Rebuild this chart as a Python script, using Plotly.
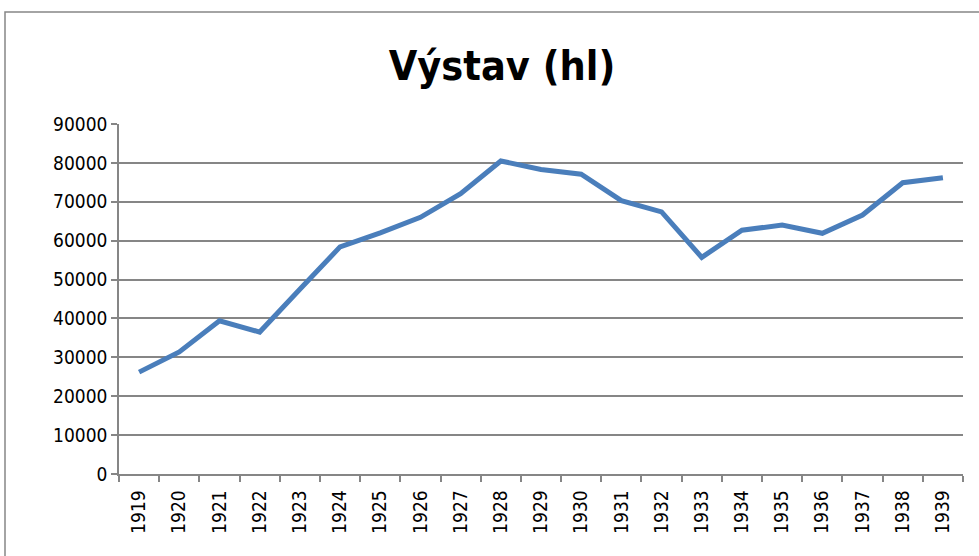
import plotly.graph_objects as go

years = [str(y) for y in range(1919, 1940)]
vystav = [26200, 31400, 39400, 36500, 47500, 58400, 62000, 66000, 72100, 80500,
          78300, 77100, 70300, 67400, 55700, 62700, 64000, 61900, 66600, 74900, 76200]
y_ticks = [0, 10000, 20000, 30000, 40000, 50000, 60000, 70000, 80000, 90000]

FONT = "Liberation Sans Narrow, DejaVu Sans Condensed, Arial Narrow, sans-serif"
GRAY = "#868686"

fig = go.Figure()
fig.add_trace(go.Scatter(x=years, y=vystav, mode="lines",
                         line=dict(color="#4A7EBB", width=5), showlegend=False))

L, R, T, B = 119, 16, 124, 82
W, H = 979, 556
pw, ph = W - L - R, H - T - B

fig.update_layout(
    width=W, height=H,
    margin=dict(l=L, r=R, t=T, b=B),
    paper_bgcolor="white", plot_bgcolor="white",
    font=dict(family=FONT, size=19, color="black"),
    title=dict(text="<b>Výstav (hl)</b>", x=502 / W, xref="container", xanchor="center",
               y=1 - 66 / H, yref="container", yanchor="middle",
               font=dict(family=FONT, size=41, color="black")),
    xaxis=dict(type="category", range=[-0.5, 20.5], tickangle=-90,
               showline=True, linecolor=GRAY, linewidth=1.5,
               ticks="outside", tickson="boundaries", ticklen=6, tickcolor=GRAY, tickwidth=1.5,
               ticklabelstandoff=7,
               showgrid=False, tickfont=dict(size=19)),
    yaxis=dict(range=[0, 90000], tickvals=y_ticks, ticktext=[str(v) for v in y_ticks],
               showline=True, linecolor=GRAY, linewidth=1.5,
               ticks="outside", ticklen=6, tickcolor=GRAY, tickwidth=1.5,
               showgrid=True, gridcolor=GRAY, gridwidth=1.5, zeroline=False,
               tickfont=dict(size=19)),
    shapes=[dict(type="rect", xref="paper", yref="paper",
                 x0=(5 - L) / pw, x1=(W + 20 - L) / pw,
                 y0=(H - B - (H + 20)) / ph, y1=(H - B - 12) / ph,
                 line=dict(color=GRAY, width=1.5), fillcolor="rgba(0,0,0,0)", layer="below")],
)

fig.write_html("out.html", config={"displayModeBar": False},
               post_script="document.body.style.margin='0px';")
